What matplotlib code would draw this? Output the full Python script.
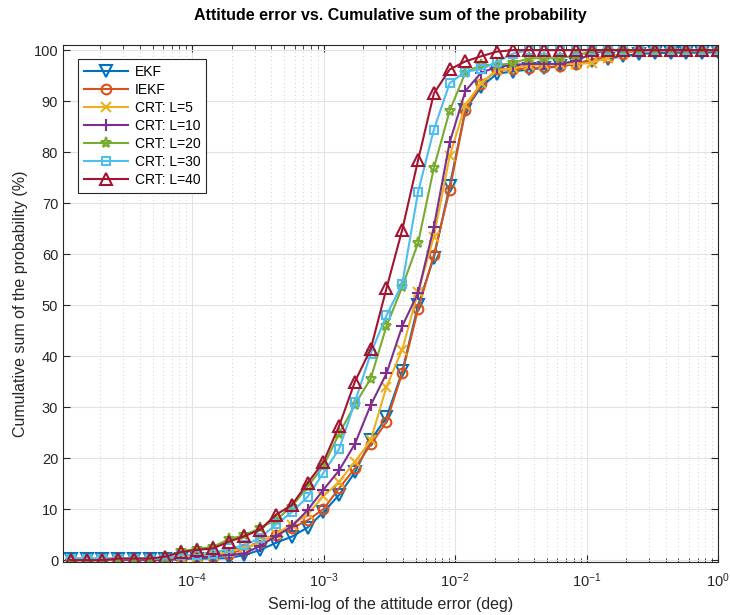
import numpy as np
import matplotlib
matplotlib.use("Agg")
import matplotlib.pyplot as plt
from matplotlib.ticker import LogLocator, FixedLocator, NullFormatter

plt.rcParams['font.family'] = ['Liberation Sans', 'DejaVu Sans']
plt.rcParams['mathtext.fontset'] = 'custom'
plt.rcParams['mathtext.rm'] = 'Liberation Sans'
plt.rcParams['mathtext.it'] = 'Liberation Sans'
plt.rcParams['mathtext.default'] = 'regular'

# x grid: log10 of the attitude error at each marker
log_err = np.linspace(-4.924, 0.0, 42)
err = 10 ** log_err

series_names = ["EKF", "IEKF", "CRT: L=5", "CRT: L=10", "CRT: L=20", "CRT: L=30", "CRT: L=40"]

ekf = [0.3, 0.3, 0.3, 0.3, 0.3, 0.3, 0.3, 0.3, 0.3, 0.3, 0.4, 1.0, 2.0, 3.4, 4.6, 6.4, 9.4, 12.8,
       17.2, 23.5, 28.0, 37.0, 50.0, 59.3, 73.3, 88.3, 92.8, 95.4, 95.8, 96.2, 96.5, 96.8, 97.3,
       97.9, 98.3, 98.8, 99.3, 99.4, 99.5, 99.5, 99.5, 99.6]
iekf = [0.1, 0.1, 0.1, 0.1, 0.1, 0.1, 0.1, 0.3, 0.5, 0.7, 1.2, 2.2, 3.6, 5.0, 6.3, 7.8, 10.0, 14.1,
        18.0, 22.7, 27.1, 36.7, 49.2, 59.8, 72.6, 88.2, 93.4, 96.2, 96.2, 96.4, 96.6, 96.9, 97.3,
        98.2, 98.6, 99.3, 100, 100, 100, 100, 100, 100]
crt5 = [0.2, 0.2, 0.2, 0.2, 0.2, 0.2, 0.2, 0.4, 0.7, 1.0, 1.6, 2.4, 3.5, 5.2, 6.9, 9.0, 12.5, 15.4,
        19.3, 23.5, 34.0, 41.3, 52.6, 63.4, 79.2, 89.3, 93.5, 96.1, 96.4, 97.0, 97.2, 97.3, 97.3,
        97.5, 98.5, 99.5, 100, 100, 100, 100, 100, 100]
crt10 = [0.0, 0.0, 0.0, 0.0, 0.0, 0.0, 0.0, 0.2, 0.5, 0.7, 1.0, 1.3, 2.8, 4.7, 6.6, 9.8, 13.8, 17.6,
         22.8, 30.4, 36.6, 45.9, 52.4, 65.3, 81.9, 92.0, 95.6, 96.7, 97.1, 97.3, 97.3, 97.3, 97.9,
         99.3, 100, 100, 100, 100, 100, 100, 100, 100]
crt20 = [0.0, 0.0, 0.0, 0.2, 0.2, 0.2, 0.5, 1.8, 2.2, 2.6, 4.1, 4.9, 6.3, 7.9, 10.5, 14.4, 18.4, 24.8,
         30.5, 35.6, 45.9, 53.6, 62.2, 76.9, 88.1, 95.6, 97.1, 97.1, 97.4, 98.4, 98.4, 98.4, 99.0,
         99.7, 100, 100, 100, 100, 100, 100, 100, 100]
crt30 = [0.3, 0.3, 0.3, 0.3, 0.3, 0.3, 0.3, 1.0, 1.0, 1.3, 2.3, 2.9, 4.4, 7.0, 9.4, 12.4, 17.1, 21.8,
         31.0, 40.5, 48.0, 54.2, 72.2, 84.4, 93.5, 95.8, 96.2, 97.7, 99.3, 100, 100, 100, 100,
         100, 100, 100, 100, 100, 100, 100, 100, 100]
crt40 = [0.0, 0.0, 0.0, 0.3, 0.3, 0.3, 0.7, 1.6, 2.0, 2.3, 3.6, 4.7, 6.0, 8.9, 10.8, 15.1, 19.2, 26.3,
         35.0, 41.4, 53.3, 64.8, 78.4, 91.5, 96.2, 97.8, 98.8, 99.7, 100, 100, 100, 100, 100,
         100, 100, 100, 100, 100, 100, 100, 100, 100]

all_series = [ekf, iekf, crt5, crt10, crt20, crt30, crt40]
colors = ["#0072BD", "#D95319", "#EDB120", "#7E2F8E", "#77AC30", "#4DBEEE", "#A2142F"]
markers = ["v", "o", "x", "+", "*", "s", "^"]
marker_sizes = {"v": 8.5, "o": 7, "x": 7, "+": 8, "*": 8, "s": 6, "^": 8.5}

x_ticks = [1e-4, 1e-3, 1e-2, 1e-1, 1e0]
x_ticklabels = ["$10^{-4}$", "$10^{-3}$", "$10^{-2}$", "$10^{-1}$", "$10^{0}$"]
y_ticks = [0, 10, 20, 30, 40, 50, 60, 70, 80, 90, 100]

fig = plt.figure(figsize=(7.3, 6.15), dpi=100)
ax = fig.add_axes([0.0863, 0.0867, 0.8973, 0.8401])

for name, vals, c, m in zip(series_names, all_series, colors, markers):
    ax.plot(err, vals, color=c, marker=m, markersize=marker_sizes[m], markerfacecolor="none",
            markeredgecolor=c, markeredgewidth=1.5, linewidth=1.5, label=name)

ax.set_xscale("log")
ax.set_xlim(1.04e-5, 1.0)
ax.set_ylim(-0.3, 101)
ax.xaxis.set_major_locator(FixedLocator(x_ticks))
ax.set_xticklabels(x_ticklabels)
ax.xaxis.set_minor_locator(LogLocator(base=10, subs=np.arange(2, 10)))
ax.xaxis.set_minor_formatter(NullFormatter())
ax.set_yticks(y_ticks)

ax.grid(True, which="major", color="#e3e3e3", linewidth=0.8, linestyle="-")
ax.grid(True, which="minor", axis="x", color="#cfcfcf", linewidth=0.7, linestyle=(0, (1, 3)))
ax.set_axisbelow(True)

for s in ax.spines.values():
    s.set_color("#262626")
    s.set_linewidth(0.8)
ax.tick_params(which="both", direction="in", top=True, right=True, colors="#262626",
               labelsize=10.5, labelcolor="#262626")
ax.tick_params(which="major", length=5)
ax.tick_params(which="minor", length=3)
ax.tick_params(axis="x", which="major", pad=7)

ax.set_xlabel("Semi-log of the attitude error (deg)", fontsize=11.5, color="#262626", labelpad=5)
ax.set_ylabel("Cumulative sum of the probability (%)", fontsize=11.5, color="#262626", labelpad=4)
ax.set_title("Attitude error vs. Cumulative sum of the probability", fontsize=11.5,
             fontweight="bold", color="black", pad=18)

leg = ax.legend(loc="upper left", bbox_to_anchor=(0.0235, 0.972), fontsize=10,
                frameon=True, fancybox=False, edgecolor="#262626", framealpha=1,
                handlelength=3.2, borderpad=0.4, labelspacing=0.29, handletextpad=0.45,
                borderaxespad=0)
leg.get_frame().set_linewidth(0.8)

fig.savefig("out.png", dpi=100)
